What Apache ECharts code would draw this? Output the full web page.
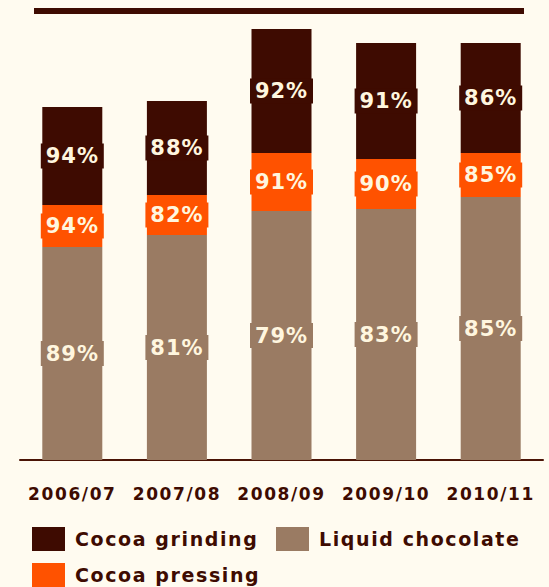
<!DOCTYPE html>
<html>
<head>
<meta charset="utf-8">
<script src="https://cdn.jsdelivr.net/npm/echarts@6/dist/echarts.min.js"></script>
<style>
  html, body { margin: 0; padding: 0; background: #fffbf0; }
  #chart { width: 549px; height: 587px; }
  /* wide tracking on the chart's text */
  #chart svg text { letter-spacing: 1.6px; }
  #chart svg text[style*="21px"] { letter-spacing: 1px; }
</style>
</head>
<body>
<div id="chart"></div>
<script>
// Seasons on the x axis
const seasons = ['2006/07', '2007/08', '2008/09', '2009/10', '2010/11'];

// Segment sizes per season (stacked bottom to top)
const liquidChocolate = [213, 225, 249, 251, 263];
const cocoaPressing   = [42, 40, 58, 50, 44];
const cocoaGrinding   = [98, 94, 124, 116, 110];

// Utilisation rates printed on each segment (%)
const liquidRate   = [89, 81, 79, 83, 85];
const pressingRate = [94, 82, 91, 90, 85];
const grindingRate = [94, 88, 92, 91, 86];

const DARK = '#3e0b01';
const ORANGE = '#ff5200';
const TAUPE = '#9a7b63';
const CREAM = '#fff6df';
const FONT = '"DejaVu Sans", Verdana, sans-serif';

function segLabel(color, rates) {
  return {
    show: true,
    position: 'inside',
    formatter: p => rates[p.dataIndex] + '%',
    color: CREAM,
    fontFamily: FONT,
    fontWeight: 'bold',
    fontSize: 21,
    backgroundColor: color,
    width: 55,
    height: 19,
    lineHeight: 19,
    align: 'center',
    verticalAlign: 'middle',
    padding: [3, 4]
  };
}

const chart = echarts.init(document.getElementById('chart'), null, { renderer: 'svg' });

const legendText = { color: '#3e0b01', fontFamily: FONT, fontWeight: 'bold', fontSize: 19, padding: [0, 0, 0, 5] };

chart.setOption({
  backgroundColor: '#fffbf0',
  animation: false,
  grid: { left: 20, right: 6, top: 10, bottom: 127, containLabel: false },
  xAxis: {
    type: 'category',
    data: seasons,
    axisLine: { lineStyle: { color: '#4a1305', width: 2 } },
    axisTick: { show: false },
    axisLabel: {
      color: '#3e0b01',
      fontFamily: FONT,
      fontWeight: 'bold',
      fontSize: 17,
      margin: 25
    }
  },
  yAxis: { type: 'value', min: 0, max: 450, show: false },
  legend: [
    { data: ['Cocoa grinding'], left: 32, top: 527, padding: 0, itemWidth: 33, itemHeight: 24, icon: 'rect', textStyle: legendText },
    { data: ['Liquid chocolate'], left: 276, top: 527, padding: 0, itemWidth: 33, itemHeight: 24, icon: 'rect', textStyle: legendText },
    { data: ['Cocoa pressing'], left: 32, top: 563, padding: 0, itemWidth: 33, itemHeight: 24, icon: 'rect', textStyle: legendText }
  ],
  graphic: [
    { type: 'rect', shape: { x: 34, y: 8, width: 490, height: 6 }, style: { fill: DARK }, silent: true }
  ],
  series: [
    {
      name: 'Liquid chocolate', type: 'bar', stack: 'cap', barWidth: 60,
      itemStyle: { color: TAUPE },
      label: segLabel(TAUPE, liquidRate),
      data: liquidChocolate
    },
    {
      name: 'Cocoa pressing', type: 'bar', stack: 'cap', barWidth: 60,
      itemStyle: { color: ORANGE },
      label: segLabel(ORANGE, pressingRate),
      data: cocoaPressing
    },
    {
      name: 'Cocoa grinding', type: 'bar', stack: 'cap', barWidth: 60,
      itemStyle: { color: DARK },
      label: segLabel(DARK, grindingRate),
      data: cocoaGrinding
    }
  ]
});
</script>
</body>
</html>
